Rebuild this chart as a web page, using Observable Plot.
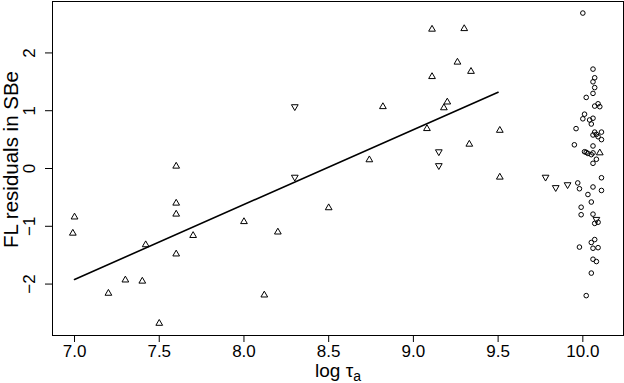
<!DOCTYPE html>
<html><head><meta charset="utf-8">
<script src="https://cdn.jsdelivr.net/npm/d3@7"></script>
<script src="https://cdn.jsdelivr.net/npm/@observablehq/plot@0.6"></script>
<style>html,body{margin:0;padding:0;background:#fff} svg{display:block}</style>
</head><body><div id="chart"></div>
<script>
// Upward triangles
const upX = [7.00, 6.99, 7.60, 7.60, 7.60, 7.42, 7.70, 7.60, 7.30, 7.40, 7.20, 7.50, 8.00,
             9.11, 9.11, 8.82, 9.08, 8.74, 8.50, 8.20, 8.12, 9.30, 9.26, 9.34, 9.20, 9.18,
             9.51, 9.33, 9.51, 10.10];
const upY = [-0.84, -1.12, 0.04, -0.60, -0.79, -1.32, -1.16, -1.48, -1.93, -1.95, -2.16, -2.68, -0.92,
             2.41, 1.59, 1.07, 0.69, 0.15, -0.68, -1.10, -2.19, 2.42, 1.84, 1.68, 1.15, 1.05,
             0.66, 0.42, -0.15, 0.27];
// Downward triangles
const downX = [8.30, 9.15, 9.15, 8.30, 9.78, 9.84, 9.91, 10.08];
const downY = [1.07, 0.29, 0.05, -0.15, -0.15, -0.33, -0.28, -0.88];
// Circles
const circX = [10.00, 10.06, 10.07, 10.06, 10.07, 10.06, 10.02, 10.09, 10.07, 10.10,
               10.01, 10.00, 10.06, 10.04, 10.05, 9.96, 10.07, 10.11, 10.06, 10.08,
               10.09, 10.11, 9.95, 10.06, 10.01, 10.02, 10.03, 10.06, 10.05, 10.08,
               10.06, 10.11, 9.97, 9.98, 10.03, 10.06, 10.11, 10.05, 9.99, 9.99,
               10.06, 10.07, 10.09, 10.07, 10.05, 9.98, 10.06, 10.09, 10.06, 10.08,
               10.05, 10.02];
const circY = [2.69, 1.72, 1.57, 1.50, 1.40, 1.30, 1.23, 1.12, 1.08, 1.07,
               0.94, 0.86, 0.87, 0.84, 0.77, 0.69, 0.63, 0.63, 0.58, 0.59,
               0.55, 0.50, 0.41, 0.39, 0.29, 0.28, 0.26, 0.27, 0.24, 0.16,
               0.09, -0.16, -0.25, -0.35, -0.45, -0.32, -0.38, -0.58, -0.67, -0.80,
               -0.79, -0.95, -0.93, -1.23, -1.28, -1.36, -1.38, -1.37, -1.57, -1.61,
               -1.81, -2.20];
// Fitted line
const fitX = [7.0, 9.5];
const fitY = [-1.92, 1.32];
// Ticks and labels
const xTicks = [7.0, 7.5, 8.0, 8.5, 9.0, 9.5, 10.0];
const yTicks = [-2, -1, 0, 1, 2];
const xLabelMain = "log τ";
const xLabelSub = "a";
const yLabel = "FL residuals in SBe";

const up = upX.map((x, i) => ({x, y: upY[i]}));
const down = downX.map((x, i) => ({x, y: downY[i]}));
const circ = circX.map((x, i) => ({x, y: circY[i]}));
const fit = fitX.map((x, i) => ({x, y: fitY[i]}));

const font = "'Liberation Sans', Arial, Helvetica, sans-serif";

const chart = Plot.plot({
  width: 624, height: 383,
  marginLeft: 52, marginRight: 1, marginTop: 1, marginBottom: 48,
  style: {fontFamily: font, fontSize: "17px", background: "white", color: "black"},
  x: {domain: [6.87, 10.24]},
  y: {domain: [-2.89, 2.89]},
  marks: [
    Plot.frame({stroke: "black", strokeWidth: 1}),
    Plot.axisX({ticks: xTicks, tickFormat: d => d.toFixed(1), tickSize: 7, tickPadding: 2, fontSize: 17, label: null, stroke: "black"}),
    Plot.axisY({ticks: yTicks, tickFormat: d => d < 0 ? "\u2212" + Math.abs(d) : String(d), tickSize: 7, tickRotate: -90, tickPadding: 11, fontSize: 17, label: null, stroke: "black"}),
    Plot.line(fit, {x: "x", y: "y", stroke: "black", strokeWidth: 1.6}),
    Plot.dot(up, {x: "x", y: "y", symbol: "triangle", r: 2.5, stroke: "black", strokeWidth: 1, fill: "none"}),
    Plot.dot(down, {x: "x", y: "y", symbol: "triangle", rotate: 180, r: 2.5, stroke: "black", strokeWidth: 1, fill: "none"}),
    Plot.dot(circ, {x: "x", y: "y", symbol: "circle", r: 2.3, stroke: "black", strokeWidth: 1, fill: "none"}),
    Plot.text([xLabelMain + xLabelSub], {frameAnchor: "bottom", lineAnchor: "middle", textAnchor: "middle", dy: 35, fontSize: 19, fill: "black"}),
    Plot.text([yLabel], {frameAnchor: "left", textAnchor: "middle", lineAnchor: "middle", rotate: -90, dx: -41, dy: -9, fontSize: 20.5, fill: "black"})
  ]
});
document.getElementById("chart").appendChild(chart);

// Turn the x label's trailing letter into a subscript
const xt = [...chart.querySelectorAll("text")].find(n => n.textContent === xLabelMain + xLabelSub);
if (xt) {
  xt.textContent = "";
  const ns = "http://www.w3.org/2000/svg";
  const t1 = document.createElementNS(ns, "tspan");
  t1.textContent = xLabelMain;
  const t2 = document.createElementNS(ns, "tspan");
  t2.textContent = xLabelSub;
  t2.setAttribute("dy", "0.3em");
  t2.setAttribute("font-size", "14");
  xt.appendChild(t1);
  xt.appendChild(t2);
}
</script>
</body></html>
